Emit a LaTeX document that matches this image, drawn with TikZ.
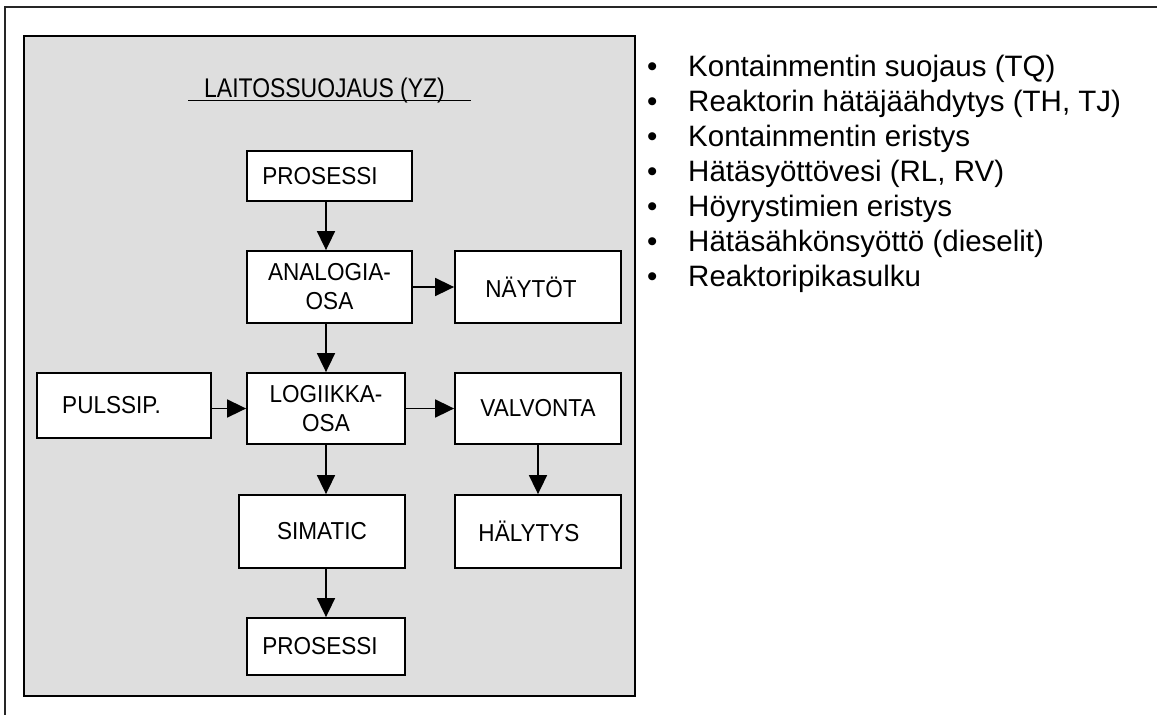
\documentclass[tikz,border=0pt]{standalone}
\usepackage{fontspec}
\setmainfont{Liberation Sans}
\newfontfamily\otsikkofont[FakeStretch=0.85]{Liberation Sans}
\newfontfamily\lohkofont[FakeStretch=0.92]{Liberation Sans}
\usetikzlibrary{arrows.meta}
\newcommand{\bul}{\textbullet\hspace{30.7pt}}

\begin{document}
\begin{tikzpicture}[x=1pt,y=-1pt,
	lohko/.style 2 args={draw, line width=1.8pt, fill=white, inner sep=0pt,
		align=center, minimum width=#1pt, minimum height=#2pt,
		font=\lohkofont\fontsize{24.5}{29}\selectfont},
	nuoli/.style={line width=1.7pt, -{Triangle[length=19pt,width=18pt]}}]
	% Frame and grey panel
	\useasboundingbox (0,0) rectangle (1157,715);
	\draw[line width=2pt, black!85] (5,715) -- (5,7) -- (1157,7);
	\draw[line width=1.5pt, fill=black!13] (24,36) rectangle (635,696);
	
	% Title
	\node[anchor=base, inner sep=0pt, font=\otsikkofont\fontsize{27}{32}\selectfont] (otsikko) at (324.5,97) {LAITOSSUOJAUS (YZ)};
	\draw[line width=1.5pt] (188,100.5) -- (471,100.5);
	
	% Blocks
	\node[lohko={165}{50}] (pros1) at (329.5,176) {PROSESSI\hspace*{19pt}};
	\node[lohko={165}{72}] (analog) at (329.5,287) {ANALOGIA-\\OSA};
	\node[lohko={166}{72}] (naytot) at (538,287) {NÄYTÖT\hspace*{14pt}};
	\node[lohko={174}{65}] (pulssi) at (124,405.5) {PULSSIP.\hspace*{25pt}};
	\node[lohko={158}{71}] (logiik) at (326,408.5) {LOGIIKKA-\\OSA};
	\node[lohko={166}{71}] (valv) at (538,408.5) {VALVONTA};
	\node[lohko={166}{73}] (simatic) at (322,531.5) {SIMATIC};
	\node[lohko={166}{73}] (halytys) at (538,531.5) {HÄLYTYS\hspace*{18pt}};
	\node[lohko={158}{57}] (pros2) at (326,646.5) {PROSESSI\hspace*{12pt}};
	
	% Arrows
	\draw[nuoli] (pros1.south -| logiik) -- (analog.north -| logiik);
	\draw[nuoli] (analog.south -| logiik) -- (logiik);
	\draw[nuoli] (logiik) -- (logiik |- simatic.north);
	\draw[nuoli] (simatic.south -| logiik) -- (pros2);
	\draw[nuoli] (analog) -- (naytot);
	\draw[nuoli] (pulssi.east |- logiik) -- (logiik);
	\draw[nuoli] (logiik) -- (valv);
	\draw[nuoli] (valv) -- (halytys);
	
	% List of functions
	\node[anchor=north west, inner sep=0pt, align=left, font=\fontsize{29.5}{35}\selectfont] (luettelo) at (647,54.5) {%
		\bul Kontainmentin suojaus (TQ)\\
		\bul Reaktorin hätäjäähdytys (TH, TJ)\\
		\bul Kontainmentin eristys\\
		\bul Hätäsyöttövesi (RL, RV)\\
		\bul Höyrystimien eristys\\
		\bul Hätäsähkönsyöttö (dieselit)\\
		\bul Reaktoripikasulku};
\end{tikzpicture}
\end{document}
